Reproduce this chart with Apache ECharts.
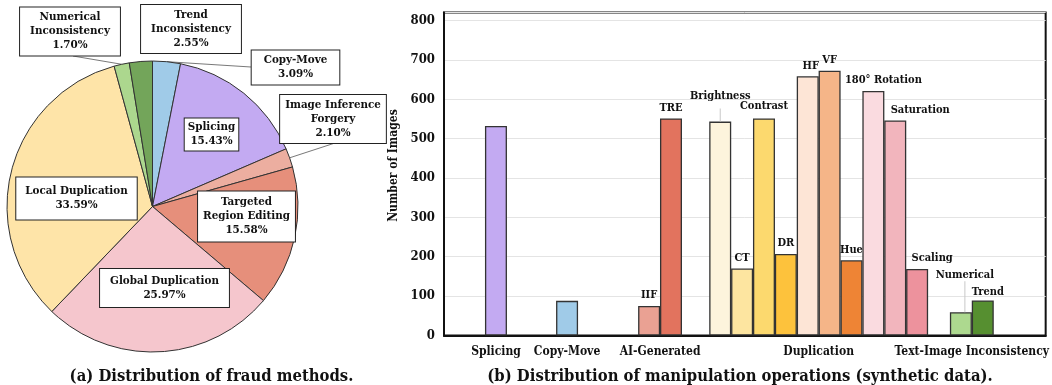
<!DOCTYPE html>
<html>
<head>
<meta charset="utf-8">
<script src="https://cdn.jsdelivr.net/npm/echarts@6/dist/echarts.min.js"></script>
<style>
html,body{margin:0;padding:0;background:#fff;}
#chart{width:1052px;height:385px;}
</style>
</head>
<body>
<div id="chart"></div>
<script>
// ---------- DATA ----------
const pieNames = ['Copy-Move', 'Splicing', 'Image Inference\nForgery', 'Targeted\nRegion Editing',
  'Global Duplication', 'Local Duplication', 'Numerical\nInconsistency', 'Trend\nInconsistency'];
const piePercents = [3.09, 15.43, 2.10, 15.58, 25.97, 33.59, 1.70, 2.55];

const groupNames = ['Splicing', 'Copy-Move', 'AI-Generated', 'Duplication', 'Text-Image Inconsistency'];
const opNames = ['Splicing', 'Copy-Move', 'IIF', 'TRE', 'Brightness', 'CT', 'Contrast', 'DR',
  'HF', 'VF', 'Hue', '180° Rotation', 'Saturation', 'Scaling', 'Numerical', 'Trend'];
const opCounts = [532, 88, 75, 551, 543, 170, 551, 207, 658, 672, 191, 621, 546, 169, 59, 89];
const yTicks = [0, 100, 200, 300, 400, 500, 600, 700, 800];

// ---------- STYLE / LAYOUT ----------
const FONT = '"DejaVu Serif Condensed", "DejaVu Serif", serif';
const pieColors = ['#a0cbe8', '#c3aaf2', '#ecaea0', '#e68f7b', '#f5c6cd', '#fee4a8', '#acd78e', '#73a55a'];
const barColors = ['#c3aaf2', '#a0cbe8', '#eaa193', '#e2735e', '#fdf4dc', '#fde5a0', '#fcd96e', '#fdc23c',
  '#fde5d6', '#f5b588', '#ee8435', '#fadbe0', '#f2b5bd', '#ed929d', '#add98f', '#568f30'];
const PIE_C = [152.5, 206.5], PIE_R = 145.5;
const pieLabelPos = [[295.5, 67.5], [211.5, 134.5], [333, 119], [246.5, 216.5], [164.5, 288], [76.5, 198.5], [70, 31.5], [191, 29]];
const pieLabelPad = [[3, 12], [2, 3], [3, 5], [4, 5], [5, 10], [7, 9], [3, 10], [3, 10]];
const pieLineEnd = {0: [251, 67], 2: [335, 143], 6: [73, 56]};

const NSLOT = 110;
const barSlot = [9, 22, 37, 41, 50, 54, 58, 62, 66, 70, 74, 78, 82, 86, 94, 98];
const groupSlot = [9, 22, 39, 68, 96];
const barLabelOffset = [null, null, [0, 0], [0, 0], [0, 0], [0, 0], [0, -2], [0, 0], [3, 0], [0, 0], [0, 0], [10, 0], [25, 0], [15, 0], [4, 0], [5, 2]];
const barLeader = {4: 13, 14: 31};

// pie leader lines from slice edge
let cum = 0;
const pieMidAngle = piePercents.map(p => { const a = (cum + p / 2) / 100 * 2 * Math.PI; cum += p; return a; });
function edgePoint(i) {
  const a = pieMidAngle[i];
  return [PIE_C[0] + PIE_R * Math.sin(a), PIE_C[1] - PIE_R * Math.cos(a)];
}

const pieData = pieNames.map((n, i) => ({
  name: n, value: piePercents[i],
  itemStyle: {color: pieColors[i]},
  label: {padding: pieLabelPad[i]},
  labelLine: {show: pieLineEnd[i] !== undefined}
}));

const slotNames = [];
for (let i = 0; i < NSLOT; i++) slotNames.push('s' + i);
const groupAt = {};
groupSlot.forEach((s, i) => groupAt[s] = groupNames[i]);

const barData = new Array(NSLOT).fill('-');
opNames.forEach((n, i) => {
  const item = {value: opCounts[i], name: n, itemStyle: {color: barColors[i]}};
  if (barLabelOffset[i] === null) {
    item.label = {show: false};
  } else if (barLeader[i] !== undefined) {
    item.label = {show: true, distance: 0, offset: barLabelOffset[i],
      formatter: '{t|' + n + '}\n{l|}',
      rich: {t: {fontFamily: FONT, fontWeight: 'bold', fontSize: 11, color: '#111', lineHeight: barLeader[i] === 13 ? 24 : 13},
             l: {width: 1, height: barLeader[i], backgroundColor: '#c8c8c8'}}};
  } else {
    item.label = {show: true, offset: barLabelOffset[i], formatter: n};
  }
  barData[barSlot[i]] = item;
});

const chart = echarts.init(document.getElementById('chart'), null, {renderer: 'canvas'});
chart.setOption({
  animation: false,
  backgroundColor: '#fff',
  title: [
    {text: '(a) Distribution of fraud methods.', left: 206.5, top: 363, textAlign: 'center',
      textStyle: {fontFamily: FONT, fontWeight: 'bold', fontSize: 16.5, color: '#111'}},
    {text: '(b) Distribution of manipulation operations (synthetic data).', left: 735, top: 363, textAlign: 'center',
      textStyle: {fontFamily: FONT, fontWeight: 'bold', fontSize: 16.5, color: '#111'}}
  ],
  grid: {left: 444, right: -2, top: 12.5, bottom: 49.5, show: true, borderColor: '#111', borderWidth: 2, containLabel: false},
  xAxis: {
    type: 'category', data: slotNames, boundaryGap: true,
    axisLine: {show: true, lineStyle: {color: '#111', width: 2}},
    axisTick: {show: false},
    axisLabel: {interval: 0, margin: 10, formatter: (v, idx) => groupAt[idx] || '',
      fontFamily: FONT, fontWeight: 'bold', fontSize: 12, color: '#111'},
    splitLine: {show: false}
  },
  yAxis: {
    type: 'value', min: 0, max: 820, interval: 100,
    name: 'Number of Images', nameLocation: 'middle', nameGap: 30,
    nameTextStyle: {fontFamily: FONT, fontWeight: 'bold', fontSize: 12, color: '#111', padding: [0, 0, 0, 17]},
    axisLine: {show: true, lineStyle: {color: '#111', width: 2}},
    axisTick: {show: false},
    axisLabel: {margin: 9, formatter: v => (yTicks.indexOf(v) >= 0 ? String(v) : ''),
      fontFamily: FONT, fontWeight: 'bold', fontSize: 13, color: '#111'},
    splitLine: {show: true, lineStyle: {color: '#e4e4e4', width: 1}}
  },
  series: [
    {
      type: 'pie', center: PIE_C, radius: [0, PIE_R], startAngle: 90, clockwise: true,
      avoidLabelOverlap: false, silent: true,
      itemStyle: {borderColor: '#333', borderWidth: 1},
      label: {show: true, position: 'outside',
        formatter: p => p.name + '\n' + p.value.toFixed(2) + '%',
        fontFamily: FONT, fontWeight: 'bold', fontSize: 11.5, lineHeight: 14, color: '#111',
        backgroundColor: '#fff', borderColor: '#222', borderWidth: 1, align: 'center'},
      labelLine: {show: true, lineStyle: {color: '#555', width: 0.8}},
      labelLayout: function (params) {
        const i = params.dataIndex;
        const res = {x: pieLabelPos[i][0], y: pieLabelPos[i][1], align: 'center', verticalAlign: 'middle'};
        if (pieLineEnd[i]) {
          const e = edgePoint(i);
          res.labelLinePoints = [e, e, pieLineEnd[i]];
        }
        return res;
      },
      data: pieData
    },
    {
      type: 'bar', barWidth: 22, silent: true,
      itemStyle: {borderColor: '#333', borderWidth: 1.3},
      label: {show: true, position: 'top', distance: 5, fontFamily: FONT, fontWeight: 'bold', fontSize: 11, color: '#111'},
      data: barData
    }
  ]
});
</script>
</body>
</html>
